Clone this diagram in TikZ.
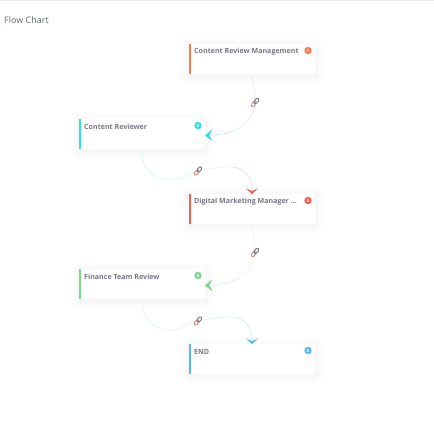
\documentclass[tikz,border=0pt]{standalone}
\usepackage{fontspec}
\setmainfont{Open Sans}
\usetikzlibrary{arrows.meta,calc,backgrounds}
\definecolor{cOrange}{HTML}{FF7A50}
\definecolor{cCyan}{HTML}{2FDFE3}
\definecolor{cRed}{HTML}{EF5F50}
\definecolor{cGreen}{HTML}{78D98A}
\definecolor{cBlue}{HTML}{5AB8F0}
\definecolor{cText}{HTML}{77778A}
\definecolor{cTitle}{HTML}{5F6675}
\tikzset{
  card/.style={rectangle,fill=white,minimum width=126pt,minimum height=30pt,inner sep=0pt,outer sep=0pt,
    path picture={\fill[#1] (path picture bounding box.south west) rectangle ++(2.4,-30);}},
  cardtitle/.style={anchor=west,inner sep=0pt,text=cText,font=\fontsize{7.1}{9}\selectfont\bfseries},
  badge/.style={circle,fill=#1,minimum size=7.4pt,inner sep=0pt,text=white,font=\fontsize{4.5}{5}\selectfont\bfseries},
  linknode/.style={circle,minimum size=8pt,inner sep=0pt},
  flow/.style={line width=0.7pt},
  tip/.style={-{Stealth[length=7.5pt,width=12pt,inset=3.2pt,color=#1]}},
  tipdown/.style={-{Stealth[length=5.5pt,width=12pt,inset=2.6pt,color=#1]}},
  linkpart/.style={draw=#1,line width=0.9pt,rounded corners=1.4pt},
}
\newcommand{\softshadow}[1]{%
  \foreach \i/\s in {8/0.4,7/0.8,6/1.2,5/1.6,4/2.0,3/2.4,2/2.8,1/3.2}{
    \fill[black!\s,rounded corners=\i pt]
      ($(#1.north west)+(-\i*0.9,-\i*0.9+2)$) rectangle ($(#1.south east)+(\i*0.9,\i*0.9+2)$);
  }}
\newcommand{\linkicon}[1]{%
  \begin{scope}[shift={(#1)},rotate=50]
    \draw[linkpart=cOrange!70!cBlue] (-5,-1.6) rectangle (1,1.6);
    \draw[linkpart=cText] (-1,-1.6) rectangle (5,1.6);
  \end{scope}}
\begin{document}
\begin{tikzpicture}[x=1pt,y=-1pt]
\useasboundingbox (0,0) rectangle (434,429);
\node[anchor=west,inner sep=0pt,text=cTitle,font=\fontsize{9}{11}\selectfont] (title) at (4,20) {Flow Chart};

\node[card=cOrange] (a) at (252,59) {};
\node[card=cCyan]   (b) at (142,134) {};
\node[card=cRed]    (c) at (252,209) {};
\node[card=cGreen]  (d) at (142,284) {};
\node[card=cBlue]   (e) at (252,359) {};

\begin{pgfonlayer}{background}
\fill[white] (0,0) rectangle (434,429);
\fill[black!7] (0,0) rectangle (434,1);
\foreach \p in {a,b,c,d,e}{\softshadow{\p}}
\end{pgfonlayer}

\node[cardtitle] (ta) at ($(a.north west)+(5,8)$) {Content Review Management};
\node[cardtitle] (tb) at ($(b.north west)+(5,8)$) {Content Reviewer};
\node[cardtitle] (tc) at ($(c.north west)+(5,8)$) {Digital Marketing Manager ...};
\node[cardtitle] (td) at ($(d.north west)+(5,8)$) {Finance Team Review};
\node[cardtitle] (te) at ($(e.north west)+(5,8)$) {END};

\node[badge=cOrange] (ba) at ($(a.north east)+(-7,6.5)$) {1};
\node[badge=cCyan]   (bb) at ($(b.north east)+(-7,6.5)$) {2};
\node[badge=cRed]    (bc) at ($(c.north east)+(-7,6.5)$) {3};
\node[badge=cGreen]  (bd) at ($(d.north east)+(-7,6.5)$) {4};
\node[badge=cBlue]   (be) at ($(e.north east)+(-7,6.5)$) {5};

% link markers
\node[linknode] (l1) at (255,102.5) {};
\node[linknode] (l2) at (198,171) {};
\node[linknode] (l3) at (255,252.5) {};
\node[linknode] (l4) at (198,321) {};
\coordinate (m1) at (239,128);
\coordinate (m2) at (233,167);
\coordinate (m3) at (239,278);
\coordinate (m4) at (233,317);

% a -> b
\draw[flow,cOrange!14!black!9] ($(a.south)+(0,2)$) .. controls (253,85) and (256,93) .. (l1.center);
\draw[flow,cOrange!6!black!9] (l1.center) .. controls (255,113) and (249,122) .. (m1);
\draw[flow,cCyan!28,tip=cCyan] (m1) .. controls (230,133) and (220,135) .. ($(b.east)+(0,1.5)$);
% b -> c
\draw[flow,cCyan!22] ($(b.south)+(0,2)$) .. controls (142,168) and (152,180) .. (172,180);
\draw[flow,cCyan!22] (172,180) .. controls (180,180) and (190,173) .. (l2.center);
\draw[flow,cRed!10!black!7] (l2.center) .. controls (210,169) and (222,166) .. (m2);
\draw[flow,cRed!24,tipdown=cRed] (m2) .. controls (245,168) and (252,178) .. (c.north);
% c -> d
\draw[flow,cRed!18!black!6] ($(c.south)+(0,2)$) .. controls (253,235) and (256,243) .. (l3.center);
\draw[flow,cOrange!14!black!6] (l3.center) .. controls (255,263) and (249,272) .. (m3);
\draw[flow,cGreen!28,tip=cGreen] (m3) .. controls (230,283) and (220,285) .. ($(d.east)+(0,1.5)$);
% d -> e
\draw[flow,cGreen!22] ($(d.south)+(0,2)$) .. controls (142,318) and (152,330) .. (172,330);
\draw[flow,cGreen!22] (172,330) .. controls (180,330) and (190,323) .. (l4.center);
\draw[flow,cBlue!20] (l4.center) .. controls (210,319) and (222,316) .. (m4);
\draw[flow,cBlue!26,tipdown=cBlue] (m4) .. controls (245,318) and (252,328) .. (e.north);

\linkicon{l1}
\linkicon{l2}
\linkicon{l3}
\linkicon{l4}
\end{tikzpicture}
\end{document}
